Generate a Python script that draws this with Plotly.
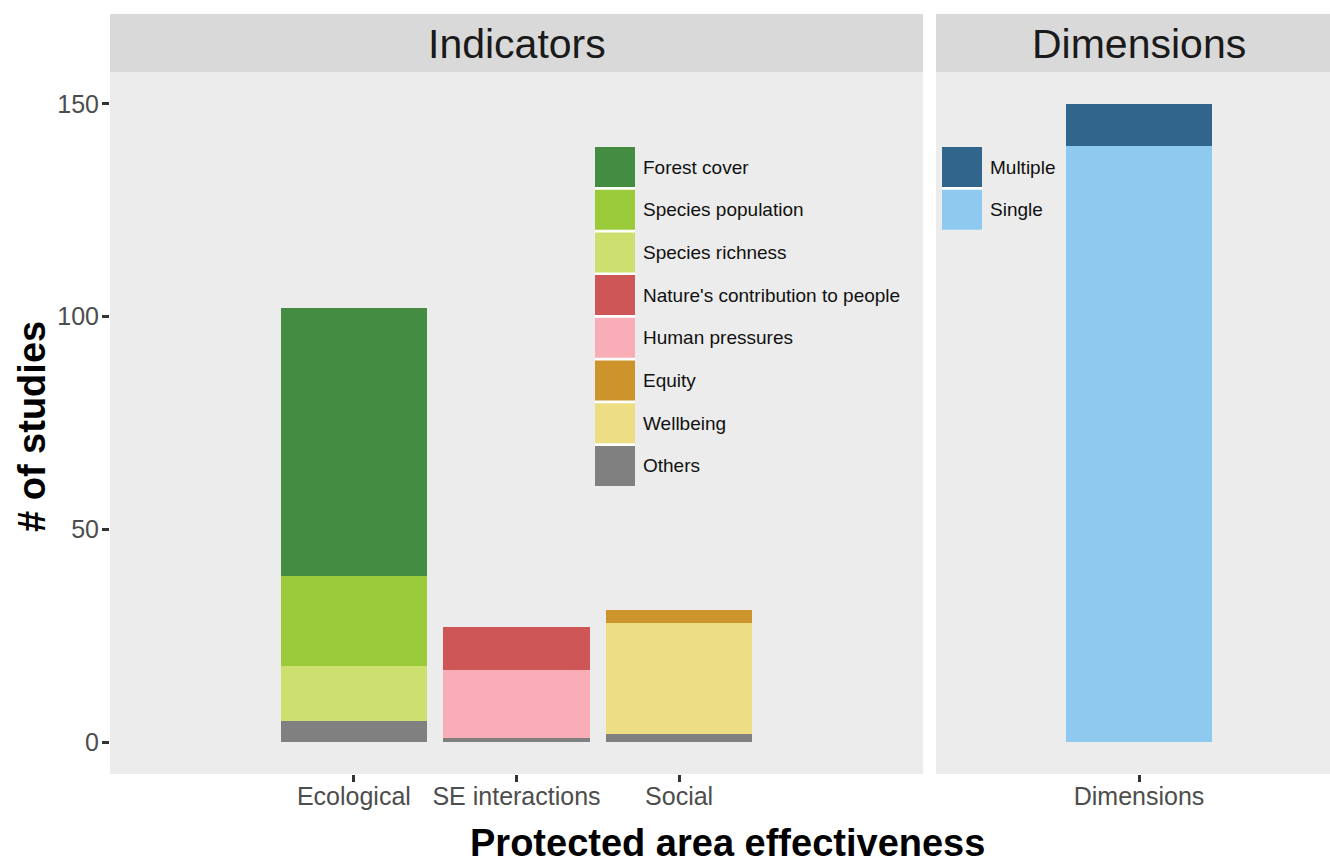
import plotly.graph_objects as go

# ---------------- data ----------------
categories = ["Ecological", "SE interactions", "Social"]
dim_category = ["Dimensions"]

# legend order (top to bottom) for the Indicators panel
indicator_names = ["Forest cover", "Species population", "Species richness",
                   "Nature's contribution to people", "Human pressures",
                   "Equity", "Wellbeing", "Others"]
indicator_colors = ["#448C41", "#9BCB3B", "#CDDF6E", "#CF5657", "#F8ADB7",
                    "#CD942B", "#EDDE84", "#808080"]
# segment heights per category [Ecological, SE interactions, Social]
forest_cover = [63, None, None]
species_population = [21, None, None]
species_richness = [13, None, None]
ncp = [None, 10, None]
human_pressures = [None, 16, None]
equity = [None, None, 3]
wellbeing = [None, None, 26]
others = [5, 1, 2]
indicator_values = [forest_cover, species_population, species_richness, ncp,
                    human_pressures, equity, wellbeing, others]

dimension_names = ["Multiple", "Single"]
dimension_colors = ["#31658C", "#8ECAEF"]
multiple = [10]
single = [140]
dimension_values = [multiple, single]

y_ticks = [0, 50, 100, 150]

# ---------------- layout helpers ----------------
# the reference's right panel runs past the window edge, so the figure is a bit wider
W, H = 1344, 860
ML, MR, MT, MB = 110, 2, 14, 86
PW, PH = W - ML - MR, H - MT - MB


def px_x(p):
    """window pixel x -> paper coordinate"""
    return (p - ML) / PW


def px_y(p):
    """window pixel y -> paper coordinate"""
    return (H - MB - p) / PH


FONT = "Liberation Sans"
fig = go.Figure()

# stacked bars: plotly stacks in trace order, so add bottom-most first
for name, color, vals in reversed(list(zip(indicator_names, indicator_colors, indicator_values))):
    fig.add_trace(go.Bar(x=categories, y=vals, name=name, marker_color=color,
                         marker_line_width=0, width=0.9, xaxis="x", yaxis="y",
                         showlegend=False))
for name, color, vals in reversed(list(zip(dimension_names, dimension_colors, dimension_values))):
    fig.add_trace(go.Bar(x=dim_category, y=vals, name=name, marker_color=color,
                         marker_line_width=0, width=0.9, xaxis="x2", yaxis="y",
                         showlegend=False))

split1 = px_x(923)
split2 = px_x(936)
ydom_top = px_y(72)

axis_common = dict(showgrid=False, zeroline=False, showline=False,
                   ticks="outside", ticklen=7, tickwidth=2.5, tickcolor="#333333",
                   tickfont=dict(family=FONT, size=25, color="#4D4D4D"))

fig.update_layout(
    width=W, height=H,
    margin=dict(l=ML, r=MR, t=MT, b=MB),
    paper_bgcolor="white", plot_bgcolor="#EBECEB",
    barmode="stack", bargap=0,
    showlegend=False,
    xaxis=dict(domain=[0, split1], anchor="y", type="category",
               range=[-1.5, 3.5], ticklabelstandoff=-7, **axis_common),
    xaxis2=dict(domain=[split2, 1], anchor="y", type="category",
                range=[-1.246, 1.246], ticklabelstandoff=-7, **axis_common),
    yaxis=dict(domain=[0, ydom_top], anchor="x", range=[-7.5, 157.5],
               tickvals=y_ticks, ticklabelstandoff=-2, **axis_common),
)

shapes = []
annotations = []

# strips
for x0, x1, label in [(110, 923, "Indicators"), (936, 1342, "Dimensions")]:
    shapes.append(dict(type="rect", xref="paper", yref="paper",
                       x0=px_x(x0), x1=px_x(x1), y0=px_y(72), y1=px_y(14),
                       fillcolor="#D9D9D9", line_width=0, layer="below"))
    annotations.append(dict(xref="paper", yref="paper", x=px_x((x0 + x1) / 2),
                            y=px_y(44), text=label, showarrow=False,
                            xanchor="center", yanchor="middle",
                            font=dict(family=FONT, size=41, color="#1A1A1A")))

# axis titles
annotations.append(dict(xref="paper", yref="paper", x=px_x(727), y=px_y(843),
                        text="<b>Protected area effectiveness</b>", showarrow=False,
                        xanchor="center", yanchor="middle",
                        font=dict(family=FONT, size=38, color="black")))
annotations.append(dict(xref="paper", yref="paper", x=px_x(32), y=px_y(427),
                        text="<b># of studies</b>", showarrow=False, textangle=-90,
                        xanchor="center", yanchor="middle",
                        font=dict(family=FONT, size=38, color="black")))


# in-panel legends
def draw_legend(names, colors, key_x, first_top):
    pitch = 42.7
    key = 40
    n = len(names)
    shapes.append(dict(type="rect", xref="paper", yref="paper",
                       x0=px_x(key_x), x1=px_x(key_x + key),
                       y0=px_y(first_top + (n - 1) * pitch + key), y1=px_y(first_top),
                       fillcolor="white", line_width=0))
    for i, (nm, col) in enumerate(zip(names, colors)):
        top = first_top + i * pitch
        shapes.append(dict(type="rect", xref="paper", yref="paper",
                           x0=px_x(key_x), x1=px_x(key_x + key),
                           y0=px_y(top + key), y1=px_y(top),
                           fillcolor=col, line_width=0))
        annotations.append(dict(xref="paper", yref="paper", x=px_x(key_x + key + 6),
                                y=px_y(top + key / 2), text=nm, showarrow=False,
                                xanchor="left", yanchor="middle",
                                font=dict(family=FONT, size=19, color="#111111")))


draw_legend(indicator_names, indicator_colors, 595, 147)
draw_legend(dimension_names, dimension_colors, 942, 147)

fig.update_layout(shapes=shapes, annotations=annotations)
fig.write_html(
    "out.html",
    config={"displayModeBar": False},
    post_script="document.body.style.margin='0';document.body.style.overflow='hidden';",
)
